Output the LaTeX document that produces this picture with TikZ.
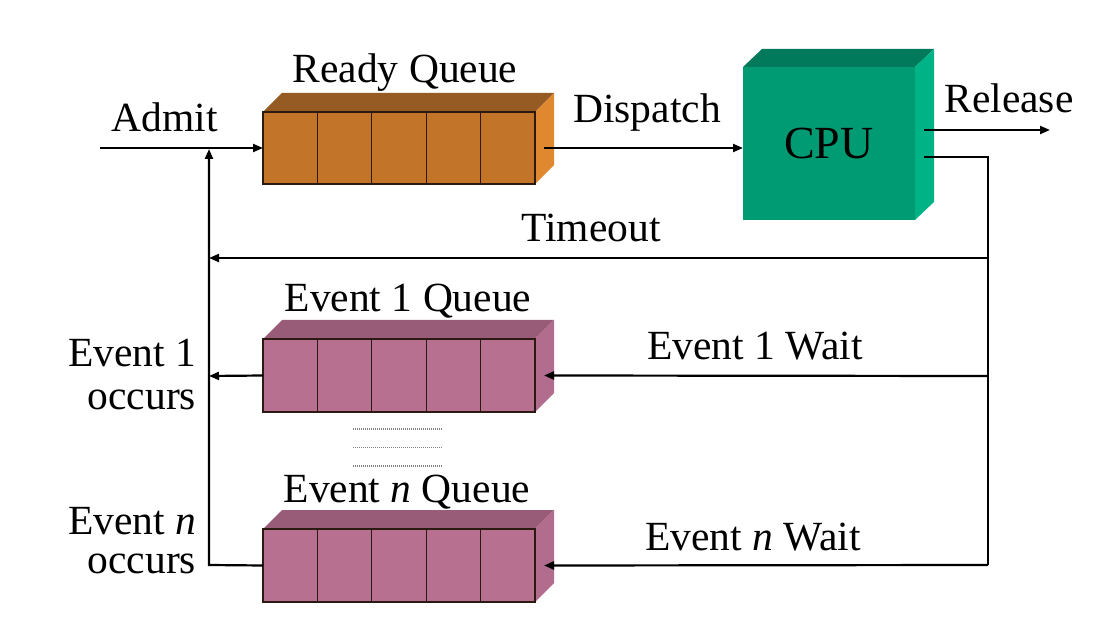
\documentclass[tikz,border=0pt]{standalone}
\usepackage{fontspec}
\setmainfont{Liberation Serif}
\usetikzlibrary{arrows.meta,calc}
\definecolor{rqfront}{HTML}{C27429}
\definecolor{rqtop}{HTML}{955B23}
\definecolor{rqside}{HTML}{E08830}
\definecolor{evfront}{HTML}{B87091}
\definecolor{evtop}{HTML}{985C78}
\definecolor{evside}{HTML}{B26C8E}
\definecolor{cpufront}{HTML}{009A73}
\definecolor{cputop}{HTML}{007A5B}
\definecolor{cpuside}{HTML}{00B386}
\definecolor{qline}{HTML}{2A1A12}
\tikzset{
  lbl/.style={font=\fontsize{41.5}{41}\selectfont, inner sep=0pt, outer sep=0pt},
  conn/.style={line width=2.2pt, draw=black},
  arr/.style={conn, -{Triangle[length=10pt,width=8pt]}},
  qfront/.style={draw=qline, line width=1.3pt, minimum width=272pt, minimum height=72pt, inner sep=0pt, outer sep=0pt},
  cpubox/.style={fill=cpufront, minimum width=172pt, minimum height=153pt, inner sep=0pt, outer sep=0pt, font=\fontsize{46}{46}\selectfont},
  dotline/.style={draw=gray, line width=1.3pt, dash pattern=on 1pt off 1pt}
}
\newcommand\drawqueue[4]{%
  \fill[#3] (#1.north west) -- ++(19,-19) -- ($(#1.north east)+(19,-19)$) -- (#1.north east) -- cycle;
  \fill[#4] (#1.north east) -- ++(19,-19) -- ($(#1.south east)+(19,-19)$) -- (#1.south east) -- cycle;
  \foreach \i in {1,2,3,4}{\draw[qline, line width=1.3pt] ($(#1.north west)!\i/5!(#1.north east)$) -- ($(#1.south west)!\i/5!(#1.south east)$);}
  \draw[qline, line width=1.3pt] (#1.north west) rectangle (#1.south east);
}
\begin{document}
\begin{tikzpicture}[x=1pt,y=-1pt]
\useasboundingbox (0,0) rectangle (1117,628);
\fill[white] (0,0) rectangle (1117,628);

% queues
\node[qfront, fill=rqfront] (rq) at (399,148) {};
\drawqueue{rq}{rqfront}{rqtop}{rqside}
\node[qfront, fill=evfront, minimum height=73pt] (e1q) at (399,375.5) {};
\drawqueue{e1q}{evfront}{evtop}{evside}
\node[qfront, fill=evfront, minimum height=73pt] (enq) at (399,565.5) {};
\drawqueue{enq}{evfront}{evtop}{evside}

% CPU
\node[cpubox] (cpu) at (829,143.5) {CPU};
\fill[cputop] (cpu.north west) -- ++(19,-18) -- ($(cpu.north east)+(19,-18)$) -- (cpu.north east) -- cycle;
\fill[cpuside] (cpu.north east) -- ++(19,-18) -- ($(cpu.south east)+(19,-18)$) -- (cpu.south east) -- cycle;

% dotted separators
\draw[dotline] (353,429) -- (443,429);
\draw[dotline] (353,447.5) -- (443,447.5);
\draw[dotline] (353,466) -- (443,466);

% coordinates
\coordinate (admit) at (100,148);
\coordinate (rel) at (1050,130);
\coordinate (relstart) at (924,130);
\coordinate (cpuout) at (924,157);
\coordinate (rtop) at (988,258);
\coordinate (rmid) at (988,376);
\coordinate (rbot) at (988,565);
\coordinate (ltop) at (209,149);
\coordinate (lto) at (209,258);
\coordinate (lmid) at (209,376);
\coordinate (lbot) at (209,565);

% connectors
\draw[arr] (admit) -- (rq.west);
\draw[arr] ([xshift=9pt]rq.east) -- (rq.east -| cpu.west);
\draw[arr] (relstart) -- (rel);
\draw[conn] (cpuout) -| (rbot);
\draw[arr] (rtop) -- (lto);
\draw[arr] (rmid) -- ([xshift=9pt]e1q.east);
\draw[arr] (rbot) -- ([xshift=9pt]enq.east);
\draw[arr] (e1q.west) -- (lmid);
\draw[arr] (enq.west) -- (lbot) -- (ltop);

% labels
\node[lbl, anchor=base] (tadmit) at (165,132) {Admit};
\node[lbl, anchor=base] (tready) at (405,83) {Ready Queue};
\node[lbl, anchor=base] (tdisp) at (647,123) {Dispatch};
\node[lbl, anchor=base] (trel) at (1009,113) {Release};
\node[lbl, anchor=base] (ttime) at (591,242) {Timeout};
\node[lbl, anchor=base] (te1q) at (408,312) {Event 1 Queue};
\node[lbl, anchor=base] (te1w) at (755,360) {Event 1 Wait};
\node[lbl, anchor=base] (tenq) at (407,502) {Event \textit{n} Queue};
\node[lbl, anchor=base] (tenw) at (753,550) {Event \textit{n} Wait};
\node[lbl, anchor=east, align=right] (te1o) at (196,374.5) {Event 1\\[2pt]occurs};
\node[lbl, anchor=east, align=right] (teno) at (196,541) {Event \textit{n}\\[-2pt]occurs};
\end{tikzpicture}
\end{document}
